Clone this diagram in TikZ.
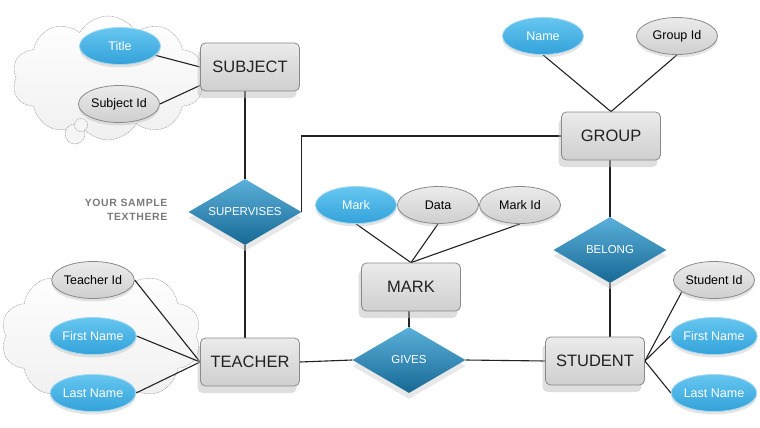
\documentclass[tikz,border=0pt]{standalone}
\usepackage{fontspec}
\setmainfont{Liberation Sans}
\usetikzlibrary{shapes.geometric,shapes.symbols,shadows}
\definecolor{blueA}{HTML}{66C6F0}
\definecolor{blueB}{HTML}{33A2DA}
\definecolor{blueLine}{HTML}{A6D8F0}
\definecolor{grayA}{HTML}{EBEBEB}
\definecolor{grayB}{HTML}{CFCFCF}
\definecolor{grayLine}{HTML}{8A8A8A}
\definecolor{dmdA}{HTML}{5AB0DA}
\definecolor{dmdB}{HTML}{176994}
\definecolor{lineC}{HTML}{222222}
\definecolor{txtGray}{HTML}{7A7A7A}
\pgfdeclarelayer{back}
\pgfdeclarelayer{lines}
\pgfsetlayers{back,lines,main}
\tikzset{
  entity/.style={rectangle, rounded corners=5pt, draw=grayLine, line width=0.8pt,
    top color=grayA, bottom color=grayB, minimum width=99pt, minimum height=48pt,
    text=lineC, font=\fontsize{16.5}{18}\selectfont,
    drop shadow={shadow xshift=-3pt, shadow yshift=-7pt, fill=black!25, opacity=0.5}},
  attrblue/.style={ellipse, draw=blueLine, line width=0.8pt, top color=blueA, bottom color=blueB,
    minimum width=81pt, minimum height=37pt, inner sep=0pt, text=white,
    font=\fontsize{12.5}{14}\selectfont,
    drop shadow={shadow xshift=0pt, shadow yshift=-3pt, fill=black!30, opacity=0.35}},
  attrgray/.style={ellipse, draw=grayLine, line width=0.8pt, top color=grayA, bottom color=grayB,
    minimum width=81pt, minimum height=37pt, inner sep=0pt, text=black,
    font=\fontsize{12.5}{14}\selectfont,
    drop shadow={shadow xshift=0pt, shadow yshift=-3pt, fill=black!30, opacity=0.35}},
  relation/.style={diamond, shape aspect=1.7, minimum width=113pt, minimum height=66pt,
    inner sep=0pt, top color=dmdA, bottom color=dmdB, text=white,
    font=\fontsize{11.5}{13}\selectfont,
    drop shadow={shadow xshift=0pt, shadow yshift=-6pt, fill=black!18, opacity=0.5}},
  cloudbox/.style={cloud, cloud puffs=10, cloud puff arc=120, cloud ignores aspect,
    draw=gray!75, line width=0.5pt, dash pattern=on 1pt off 0.7pt,
    top color=white, bottom color=gray!12},
  bubble/.style={circle, draw=gray!75, line width=0.5pt, dash pattern=on 1pt off 0.7pt,
    fill=gray!8, inner sep=0pt},
  conn/.style={draw=lineC, line width=1.1pt},
}
\begin{document}
\begin{tikzpicture}[x=1pt,y=-1pt]
\useasboundingbox (0,0) rectangle (760,428);

% clouds
\begin{pgfonlayer}{back}
\node[cloudbox, minimum width=192pt, minimum height=124pt] (cloudA) at (108,78) {};
\node[bubble, minimum size=20pt] (bubA) at (75,134) {};
\node[bubble, minimum size=13pt] (bubB) at (81,125) {};
\node[cloudbox, minimum width=200pt, minimum height=138pt] (cloudB) at (101,336) {};
\end{pgfonlayer}

% entities
\node[entity] (subject) at (250,67) {SUBJECT};
\node[entity] (group) at (611,136) {GROUP};
\node[entity] (mark) at (411,287) {MARK};
\node[entity] (teacher) at (250,362) {TEACHER};
\node[entity] (student) at (595,361) {STUDENT};

% relations
\node[relation] (supervises) at (245,212) {SUPERVISES};
\node[relation] (belong) at (610,250) {BELONG};
\node[relation] (gives) at (409,360) {GIVES};

% attributes
\node[attrblue] (title) at (120,46) {Title};
\node[attrgray] (subjid) at (119,104) {Subject Id};
\node[attrblue] (gname) at (543,36) {Name};
\node[attrgray] (gid) at (677,36) {Group Id};
\node[attrblue] (markattr) at (356,205) {Mark};
\node[attrgray] (data) at (438,205) {Data};
\node[attrgray] (markid) at (520,205) {Mark Id};
\node[attrgray] (tid) at (93,280) {Teacher Id};
\node[attrblue] (tfirst) at (93,336) {First Name};
\node[attrblue] (tlast) at (93,393) {Last Name};
\node[attrgray] (sid) at (714,280) {Student Id};
\node[attrblue] (sfirst) at (714,336) {First Name};
\node[attrblue] (slast) at (714,393) {Last Name};

% side text
\node[align=right, anchor=east, text=txtGray, font=\fontsize{10.5}{14}\selectfont\bfseries\addfontfeature{LetterSpace=6}] (sample) at (171,210) {YOUR SAMPLE\\TEXTHERE};

% connectors
\begin{pgfonlayer}{lines}
\draw[conn] (title) -- (subject.west);
\draw[conn] (subjid.east) -- ([yshift=6pt]subject.south west);
\draw[conn] (supervises.north) -- (supervises.north |- subject.south);
\draw[conn] (supervises.south) -- (supervises.south |- teacher.north);
\draw[conn] (supervises.east) |- (group.west);
\draw[conn] (gname.south) -- (group.north);
\draw[conn] (gid.south) -- (group.north);
\draw[conn] (group.south -| belong.north) -- (belong.north);
\draw[conn] (belong.south) -- (belong.south |- student.north);
\draw[conn] (markattr.south) -- (mark.north);
\draw[conn] (data.south) -- (mark.north);
\draw[conn] (markid.south) -- (mark.north);
\draw[conn] (mark.south -| gives.north) -- (gives.north);
\draw[conn] (teacher.east) -- (gives.west);
\draw[conn] (gives.east) -- (student.west);
\draw[conn] (tid.east) -- (teacher.west);
\draw[conn] (tfirst.east) -- (teacher.west);
\draw[conn] (tlast.east) -- (teacher.west);
\draw[conn] (student.east) -- (sid.200);
\draw[conn] (student.east) -- (sfirst.west);
\draw[conn] (student.east) -- (slast.west);
\end{pgfonlayer}
\end{tikzpicture}
\end{document}
